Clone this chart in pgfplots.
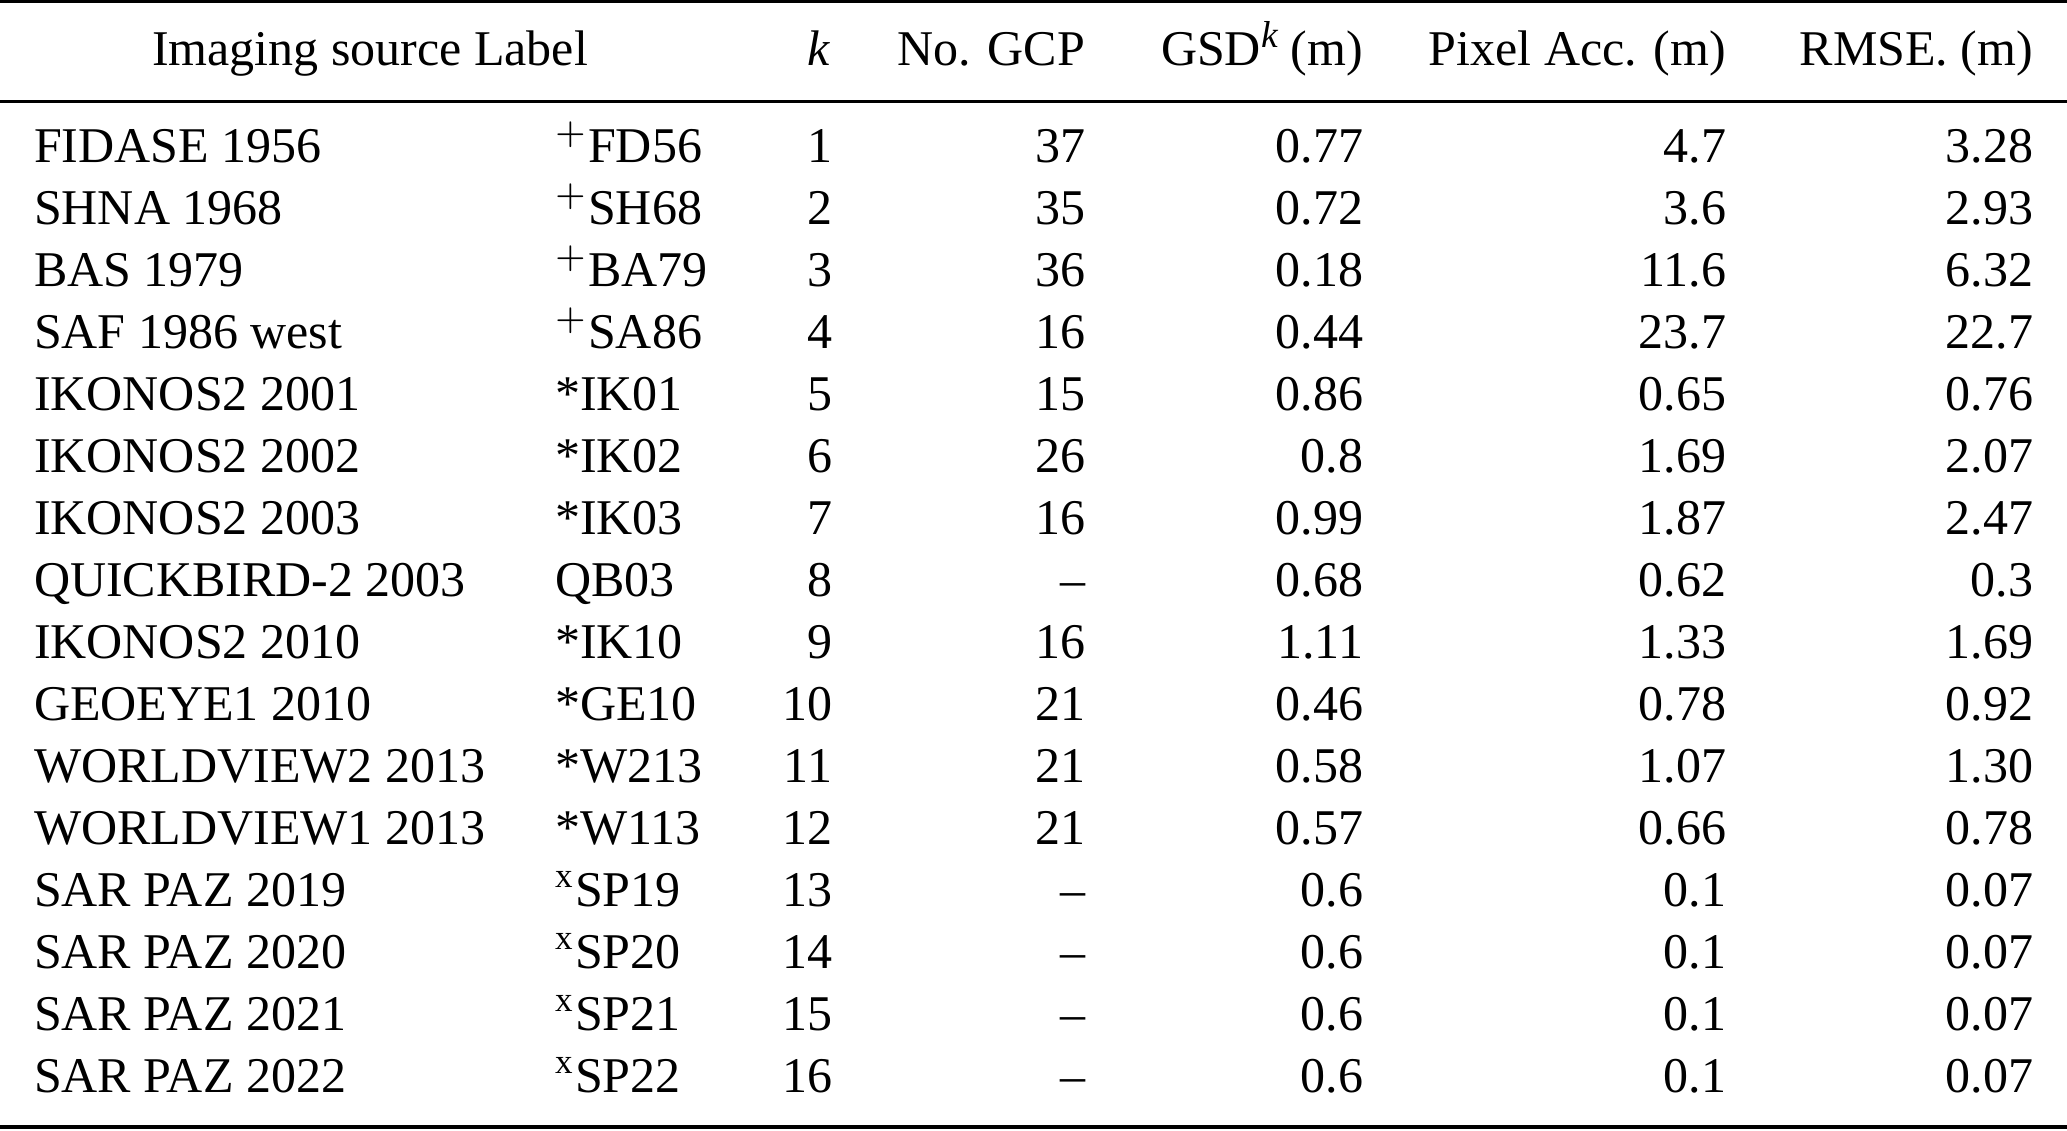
\documentclass[border=0pt]{standalone}
\usepackage{fontspec}
\setmainfont{Liberation Serif}
\usepackage{pgfplots}
\pgfplotsset{compat=1.18}
\pgfplotsset{
  cell/.style={draw=none, mark=none, nodes near coords, point meta=explicit symbolic,
    every node near coord/.append style={inner sep=0pt, outer sep=0pt,
      font=\fontsize{10}{12}\selectfont, text=black, anchor=#1}},
  rule/.style={black, line width=#1, mark=none},
}
\begin{document}
\begin{tikzpicture}
\path[use as bounding box] (0,0) rectangle (413.4pt,-226pt);
\begin{axis}[
  at={(0,0)}, anchor=north west,
  x=0.2pt, y=12.4pt, y dir=reverse,
  xmin=0, xmax=2067, ymin=-1.6129, ymax=16.6129,
  hide axis, clip=false,
]
% rules
\addplot[rule=0.65pt] coordinates {(0,-1.589) (2067,-1.589)};
\addplot[rule=0.55pt] coordinates {(0,0.024) (2067,0.024)};
\addplot[rule=0.65pt] coordinates {(0,16.565) (2067,16.565)};
% header
\addplot[cell=base west] coordinates {(152,-0.5645) [Imaging source Label]};
\addplot[cell=base east] coordinates {
  (830,-0.5645) [\textit{k}]
  (1085,-0.5645) [No. GCP]
  (1363,-0.5645) [GSD\raisebox{0.36em}{\fontsize{7.5}{9}\selectfont\textit{k}} (m)]
  (1726,-0.5645) [Pixel Acc. (m)]
  (2033,-0.5645) [RMSE. (m)]
};
% imaging source
\addplot[cell=base west] coordinates {
  (34,1) [FIDASE 1956]
  (34,2) [SHNA 1968]
  (34,3) [BAS 1979]
  (34,4) [SAF 1986 west]
  (34,5) [IKONOS2 2001]
  (34,6) [IKONOS2 2002]
  (34,7) [IKONOS2 2003]
  (34,8) [QUICKBIRD-2 2003]
  (34,9) [IKONOS2 2010]
  (34,10) [GEOEYE1 2010]
  (34,11) [WORLDVIEW2 2013]
  (34,12) [WORLDVIEW1 2013]
  (34,13) [SAR PAZ 2019]
  (34,14) [SAR PAZ 2020]
  (34,15) [SAR PAZ 2021]
  (34,16) [SAR PAZ 2022]
};
% label
\addplot[cell=base west] coordinates {
  (555,1) [$^{+}$FD56]
  (555,2) [$^{+}$SH68]
  (555,3) [$^{+}$BA79]
  (555,4) [$^{+}$SA86]
  (555,5) [*IK01]
  (555,6) [*IK02]
  (555,7) [*IK03]
  (555,8) [QB03]
  (555,9) [*IK10]
  (555,10) [*GE10]
  (555,11) [*W213]
  (555,12) [*W113]
  (555,13) [\textsuperscript{x}SP19]
  (555,14) [\textsuperscript{x}SP20]
  (555,15) [\textsuperscript{x}SP21]
  (555,16) [\textsuperscript{x}SP22]
};
% k
\addplot[cell=base east] coordinates {
  (832,1) [1] (832,2) [2] (832,3) [3] (832,4) [4]
  (832,5) [5] (832,6) [6] (832,7) [7] (832,8) [8]
  (832,9) [9] (832,10) [10] (832,11) [11] (832,12) [12]
  (832,13) [13] (832,14) [14] (832,15) [15] (832,16) [16]
};
% No. GCP
\addplot[cell=base east] coordinates {
  (1085,1) [37] (1085,2) [35] (1085,3) [36] (1085,4) [16]
  (1085,5) [15] (1085,6) [26] (1085,7) [16] (1085,8) [--]
  (1085,9) [16] (1085,10) [21] (1085,11) [21] (1085,12) [21]
  (1085,13) [--] (1085,14) [--] (1085,15) [--] (1085,16) [--]
};
% GSD
\addplot[cell=base east] coordinates {
  (1363,1) [0.77] (1363,2) [0.72] (1363,3) [0.18] (1363,4) [0.44]
  (1363,5) [0.86] (1363,6) [0.8] (1363,7) [0.99] (1363,8) [0.68]
  (1363,9) [1.11] (1363,10) [0.46] (1363,11) [0.58] (1363,12) [0.57]
  (1363,13) [0.6] (1363,14) [0.6] (1363,15) [0.6] (1363,16) [0.6]
};
% Pixel Acc.
\addplot[cell=base east] coordinates {
  (1726,1) [4.7] (1726,2) [3.6] (1726,3) [11.6] (1726,4) [23.7]
  (1726,5) [0.65] (1726,6) [1.69] (1726,7) [1.87] (1726,8) [0.62]
  (1726,9) [1.33] (1726,10) [0.78] (1726,11) [1.07] (1726,12) [0.66]
  (1726,13) [0.1] (1726,14) [0.1] (1726,15) [0.1] (1726,16) [0.1]
};
% RMSE
\addplot[cell=base east] coordinates {
  (2033,1) [3.28] (2033,2) [2.93] (2033,3) [6.32] (2033,4) [22.7]
  (2033,5) [0.76] (2033,6) [2.07] (2033,7) [2.47] (2033,8) [0.3]
  (2033,9) [1.69] (2033,10) [0.92] (2033,11) [1.30] (2033,12) [0.78]
  (2033,13) [0.07] (2033,14) [0.07] (2033,15) [0.07] (2033,16) [0.07]
};
\end{axis}
\end{tikzpicture}
\end{document}
